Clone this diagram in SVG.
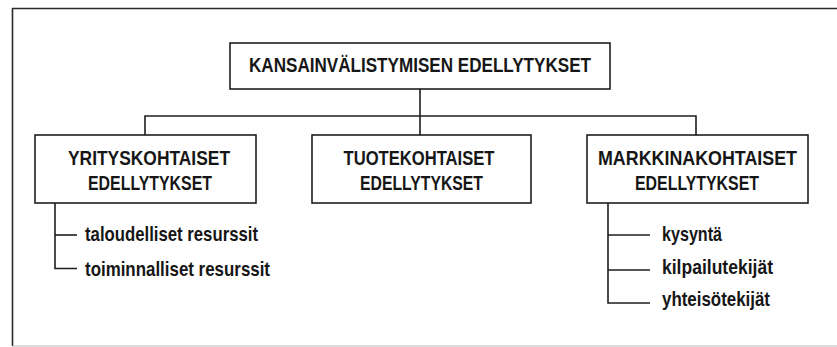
<svg xmlns="http://www.w3.org/2000/svg" width="837" height="347" viewBox="0 0 837 347">
  <style>
    .box { fill: #ffffff; stroke: #1e1e1e; stroke-width: 1.6; }
    .line { fill: none; stroke: #1e1e1e; stroke-width: 1.6; }
    .frame { fill: none; stroke: #2a2a2a; stroke-width: 1.6; }
    .head { font-family: "Liberation Sans", "DejaVu Sans", sans-serif; font-weight: bold; font-size: 21px; fill: #161616; text-anchor: middle; }
    .item { font-family: "Liberation Sans", "DejaVu Sans", sans-serif; font-weight: bold; font-size: 20.5px; fill: #161616; }
  </style>

  <rect width="837" height="347" fill="#ffffff"/>

  <!-- outer frame -->
  <g id="frame">
    <path class="frame" d="M837 8.5 H12.5 V346"/>
    <path d="M12.5 346 H837" stroke="#b8b8b8" stroke-width="1.2" fill="none"/>
  </g>

  <!-- connectors -->
  <g id="connectors">
    <path class="line" d="M420 89 V116"/>
    <path class="line" d="M145 135 V116 H696 V135"/>
    <path class="line" d="M420 116 V135"/>
    <!-- company-specific sub-items -->
    <path class="line" d="M55 203 V268.5 H77"/>
    <path class="line" d="M55 235 H77"/>
    <!-- market-specific sub-items -->
    <path class="line" d="M608 203 V303 H650"/>
    <path class="line" d="M608 235 H650"/>
    <path class="line" d="M608 270 H650"/>
  </g>

  <g id="root">
    <rect class="box" x="230" y="43" width="380" height="46"/>
    <text class="head" x="420" y="72" font-size="21.5" textLength="342" lengthAdjust="spacingAndGlyphs">KANSAINVÄLISTYMISEN EDELLYTYKSET</text>
  </g>

  <g id="yrityskohtaiset">
    <rect class="box" x="35" y="135" width="221" height="68"/>
    <text class="head" x="149" y="164.5" textLength="162" lengthAdjust="spacingAndGlyphs">YRITYSKOHTAISET</text>
    <text class="head" x="150" y="190" textLength="124" lengthAdjust="spacingAndGlyphs">EDELLYTYKSET</text>
  </g>

  <g id="tuotekohtaiset">
    <rect class="box" x="312" y="135" width="219" height="68"/>
    <text class="head" x="419" y="164.5" textLength="151" lengthAdjust="spacingAndGlyphs">TUOTEKOHTAISET</text>
    <text class="head" x="421.5" y="190" textLength="123" lengthAdjust="spacingAndGlyphs">EDELLYTYKSET</text>
  </g>

  <g id="markkinakohtaiset">
    <rect class="box" x="587" y="135" width="221" height="68"/>
    <text class="head" x="697.5" y="164.5" textLength="199" lengthAdjust="spacingAndGlyphs">MARKKINAKOHTAISET</text>
    <text class="head" x="697" y="190" textLength="124" lengthAdjust="spacingAndGlyphs">EDELLYTYKSET</text>
  </g>

  <g id="taloudelliset">
    <text class="item" x="85" y="241" textLength="173" lengthAdjust="spacingAndGlyphs">taloudelliset resurssit</text>
  </g>
  <g id="toiminnalliset">
    <text class="item" x="85" y="276" textLength="185" lengthAdjust="spacingAndGlyphs">toiminnalliset resurssit</text>
  </g>

  <g id="kysynta">
    <text class="item" x="662" y="241" textLength="60" lengthAdjust="spacingAndGlyphs">kysyntä</text>
  </g>
  <g id="kilpailutekijat">
    <text class="item" x="662" y="274" textLength="111" lengthAdjust="spacingAndGlyphs">kilpailutekijät</text>
  </g>
  <g id="yhteisotekijat">
    <text class="item" x="662" y="306" textLength="108" lengthAdjust="spacingAndGlyphs">yhteisötekijät</text>
  </g>
</svg>
